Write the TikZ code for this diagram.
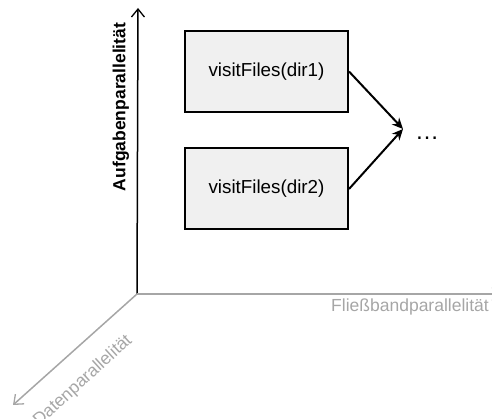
\documentclass[tikz,border=0pt]{standalone}
\usepackage{fontspec}
\setmainfont{Liberation Sans}
\usetikzlibrary{arrows.meta}
\definecolor{axisgray}{HTML}{A6A6A6}
\definecolor{boxfill}{HTML}{F0F0F0}
\begin{document}
\begin{tikzpicture}[x=1pt,y=-1pt,
  taskbox/.style={draw=black,line width=2pt,fill=boxfill,
    minimum width=163pt,minimum height=81pt,inner sep=0pt,
    font=\fontsize{18.8}{22}\selectfont},
  flow/.style={line width=2pt,-{Stealth[length=11pt,width=10pt]}},
  axislabel/.style={font=\fontsize{17.5}{20}\selectfont,inner sep=0pt},
  openarrow/.style={-{Straight Barb[length=8pt,width=13pt,line width=1.3pt]}}]
\useasboundingbox (0,0) rectangle (492,419);
\clip (0,0) rectangle (492,419);

% axes
\coordinate (origin) at (137,294);
\coordinate (up) at (138,8);
\coordinate (right) at (501,294);
\coordinate (diag) at (13,405);
\draw[line width=1.5pt,openarrow] (origin) -- (up);
\draw[axisgray,line width=2pt,openarrow] (origin) -- (right);
\draw[axisgray,line width=1.5pt,openarrow] (origin) -- (diag);

% axis labels
\node[axislabel,font=\fontsize{17.5}{20}\selectfont\bfseries,rotate=90] (task) at (121,107) {Aufgabenparallelität};
\node[axislabel,text=axisgray,anchor=east] (pipe) at (489,307) {Fließbandparallelität};
\node[axislabel,text=axisgray,rotate=42.3] (data) at (83,381) {Datenparallelität};

% tasks
\node[taskbox] (t1) at (266.5,71.5) {visitFiles(dir1)};
\node[taskbox] (t2) at (266.5,189) {visitFiles(dir2)};
\coordinate (join) at (403,129);
\node[anchor=base west,inner sep=0pt,font=\fontsize{24}{26}\selectfont] (more) at (415,140) {…};
\draw[flow] (t1.east) -- (join);
\draw[flow] (t2.east) -- (join);
\end{tikzpicture}
\end{document}
